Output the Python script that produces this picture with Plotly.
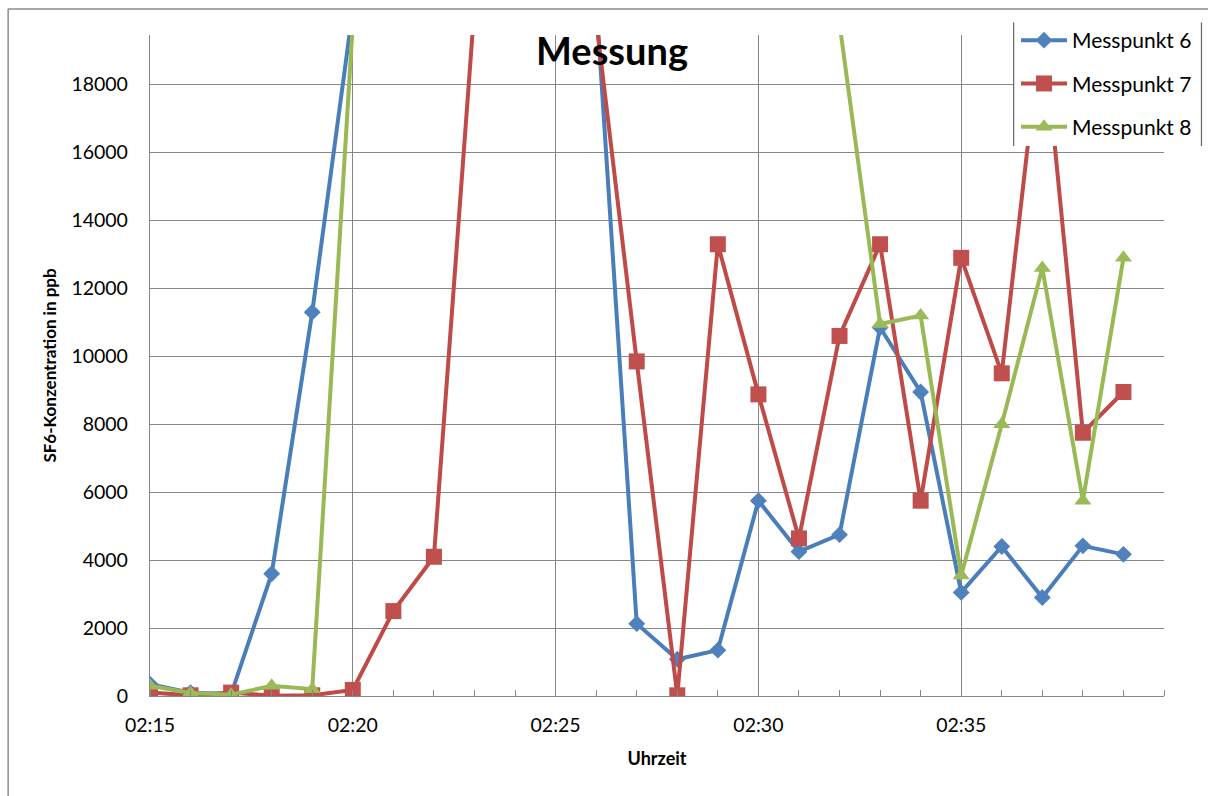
import plotly.graph_objects as go

# Uhrzeit (Minutenraster) und SF6-Konzentrationen in ppb je Messpunkt
zeiten = ["02:15", "02:16", "02:17", "02:18", "02:19", "02:20", "02:21", "02:22",
          "02:23", "02:24", "02:25", "02:26", "02:27", "02:28", "02:29", "02:30",
          "02:31", "02:32", "02:33", "02:34", "02:35", "02:36", "02:37", "02:38",
          "02:39"]

messpunkt_6 = [350, 100, 50, 3600, 11300, 20200, 35000, 52000, 61000, 47000,
               30000, 20500, 2130, 1080, 1350, 5750, 4250, 4750, 10850, 8950,
               3050, 4400, 2900, 4420, 4170]

messpunkt_7 = [100, 20, 100, 10, 20, 180, 2500, 4100, 20300, 38000, 33000,
               19900, 9850, 20, 13300, 8880, 4640, 10600, 13300, 5750, 12900,
               9500, 19950, 7750, 8950]

messpunkt_8 = [300, 90, 40, 300, 200, 19800, 42000, 60000, 71000, 68000, 57000,
               49000, 41000, 35000, 30000, 26000, 22000, 19800, 10950, 11200,
               3550, 8000, 12600, 5750, 12900]

# beschriftete Zeitpunkte der x-Achse
x_beschriftung = ["02:15", "02:20", "02:25", "02:30", "02:35"]

series = [
    ("Messpunkt 6", messpunkt_6, "#4A7EBB", "#4F81BD", "diamond", 13),
    ("Messpunkt 7", messpunkt_7, "#BE4B48", "#C0504D", "square", 16),
    ("Messpunkt 8", messpunkt_8, "#98B954", "#9BBB59", "triangle-up", 15),
]

TAG = "2000-01-01 "
x_werte = [TAG + t for t in zeiten]

FONT = "Lato"
GRID = "#878787"

fig = go.Figure()
for i, (name, werte, linie, fuellung, symbol, groesse) in enumerate(series):
    fig.add_trace(go.Scatter(
        x=x_werte, y=werte, name=name, mode="lines+markers",
        legendgroup=f"g{i}",
        line=dict(color=linie, width=4),
        marker=dict(symbol=symbol, size=groesse, color=fuellung,
                    line=dict(width=0)),
    ))

W, H = 1208, 796
L, R, T, B = 150, 1208 - 1165, 35, 796 - 696
pw, ph = W - L - R, H - T - B


def px(xpix):
    return (xpix - L) / pw


def py(ypix):
    return (H - B - ypix) / ph


shapes = [
    # Diagrammrahmen (links und oben)
    dict(type="line", xref="paper", yref="paper", x0=px(8), x1=px(8),
         y0=py(9), y1=py(810), line=dict(color="#8C8C8C", width=1.5)),
    dict(type="line", xref="paper", yref="paper", x0=px(8), x1=px(1215),
         y0=py(9), y1=py(9), line=dict(color="#8C8C8C", width=1.5)),
    # Legendenhintergrund mit seitlichen Linien
    dict(type="rect", xref="paper", yref="paper", layer="above",
         x0=px(1014.5), x1=px(1202.5), y0=py(146), y1=py(22.5),
         fillcolor="white", line=dict(width=0)),
    dict(type="line", xref="paper", yref="paper", layer="above",
         x0=px(1014.5), x1=px(1014.5), y0=py(146), y1=py(22.5),
         line=dict(color="#666666", width=1.2)),
    dict(type="line", xref="paper", yref="paper", layer="above",
         x0=px(1202.5), x1=px(1202.5), y0=py(146), y1=py(22.5),
         line=dict(color="#666666", width=1.2)),
]

fig.update_layout(
    width=W, height=H,
    margin=dict(l=L, r=R, t=T, b=B),
    paper_bgcolor="white", plot_bgcolor="white",
    font=dict(family=FONT, color="black", size=19),
    title=dict(text="<b>Messung</b>", x=612 / W, xanchor="center",
               y=1 - 52 / H, yanchor="middle",
               font=dict(family=FONT, size=38, color="black")),
    showlegend=True,
    legend=dict(x=px(1016), y=py(20), xanchor="left", yanchor="top",
                bgcolor="rgba(0,0,0,0)", borderwidth=0,
                font=dict(family=FONT, size=21, color="black"),
                tracegroupgap=13, traceorder="grouped", itemwidth=46),
    shapes=shapes,
    xaxis=dict(
        type="date",
        range=[TAG + "02:15", TAG + "02:40"],
        tickmode="array",
        tickvals=[TAG + t for t in x_beschriftung],
        ticktext=x_beschriftung,
        showgrid=True, gridcolor=GRID, gridwidth=1.3,
        showline=True, linecolor=GRID, linewidth=1.3,
        ticks="", ticklabelstandoff=11,
        tickfont=dict(family=FONT, size=19.5),
        minor=dict(ticks="inside", ticklen=6, tickcolor=GRID, tickwidth=1.3,
                   tickmode="linear", dtick=60000, tick0=TAG + "02:15",
                   showgrid=False),
        zeroline=False,
        title=dict(text="<b>Uhrzeit</b>", font=dict(family=FONT, size=18),
                   standoff=17),
    ),
    yaxis=dict(
        range=[0, 19460],
        tickmode="linear", tick0=0, dtick=2000, tickformat="d",
        showgrid=True, gridcolor=GRID, gridwidth=1.3,
        showline=True, linecolor=GRID, linewidth=1.3,
        ticks="", ticklabelstandoff=17,
        tickfont=dict(family=FONT, size=19.5),
        zeroline=False,
        title=dict(text="<b>SF6-Konzentration in ppb</b>",
                   font=dict(family=FONT, size=17), standoff=10),
    ),
)

fig.write_html("out.html")
